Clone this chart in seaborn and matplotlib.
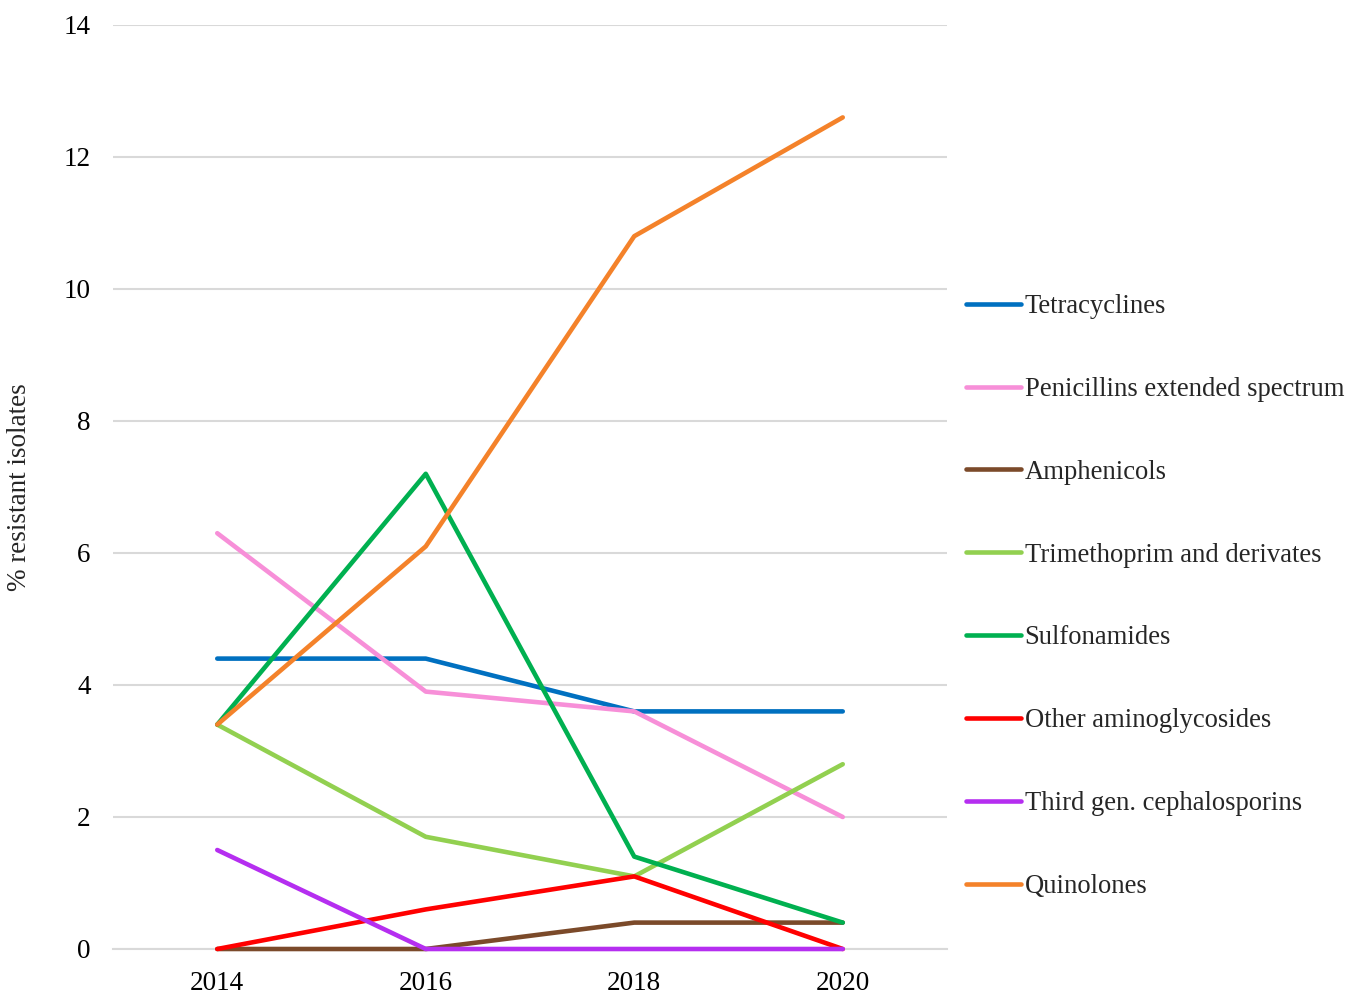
import pandas as pd
import matplotlib.pyplot as plt
import seaborn as sns

# data
years = [2014, 2016, 2018, 2020]
tetracyclines = [4.4, 4.4, 3.6, 3.6]
penicillins = [6.3, 3.9, 3.6, 2.0]
amphenicols = [0.0, 0.0, 0.4, 0.4]
trimethoprim = [3.4, 1.7, 1.1, 2.8]
sulfonamides = [3.4, 7.2, 1.4, 0.4]
aminoglycosides = [0.0, 0.6, 1.1, 0.0]
cephalosporins = [1.5, 0.0, 0.0, 0.0]
quinolones = [3.4, 6.1, 10.8, 12.6]

series = {
    "Tetracyclines": tetracyclines,
    "Penicillins extended spectrum": penicillins,
    "Amphenicols": amphenicols,
    "Trimethoprim and derivates": trimethoprim,
    "Sulfonamides": sulfonamides,
    "Other aminoglycosides": aminoglycosides,
    "Third gen. cephalosporins": cephalosporins,
    "Quinolones": quinolones,
}
colors = ["#0070C0", "#F78FD8", "#7B4A2A", "#92D050",
          "#00B050", "#FF0000", "#B52EF0", "#F4822A"]

rows = []
for name, vals in series.items():
    for y, v in zip(years, vals):
        rows.append({"Year": y, "Value": v, "Class": name})
df = pd.DataFrame(rows)
palette = dict(zip(series.keys(), colors))

sns.set_style("white")
plt.rcParams["font.family"] = ["Liberation Serif", "DejaVu Serif"]

fig = plt.figure(figsize=(13.61, 9.94), dpi=100)
ax = fig.add_axes([113 / 1361, 1 - 949 / 994, (947 - 113) / 1361, (949 - 25) / 994])

sns.lineplot(data=df, x="Year", y="Value", hue="Class", hue_order=list(series.keys()),
             palette=palette, linewidth=3.3, ax=ax, legend=True)
for line in ax.lines:
    line.set_solid_capstyle("round")
    line.set_clip_on(False)
    line.set_zorder(3)

ax.set_xlim(2013, 2021)
ax.set_ylim(0, 14)
ax.set_xticks(years)
ax.set_yticks(range(0, 15, 2))
ax.grid(axis="y", color="#D9D9D9", linewidth=1.5)
ax.set_axisbelow(True)
for s in ["top", "right", "left"]:
    ax.spines[s].set_visible(False)
ax.spines["bottom"].set_color("#D9D9D9")
ax.spines["bottom"].set_linewidth(1.5)
ax.spines["bottom"].set_zorder(1)
ax.tick_params(axis="both", length=0, labelsize=19.5, colors="black")
ax.tick_params(axis="y", pad=16)
ax.tick_params(axis="x", pad=16)
ax.set_xlabel("")
ax.set_ylabel("")
fig.text(20 / 1361, 1 - 487 / 994, "% resistant isolates", rotation=90,
         ha="center", va="center", fontsize=19.5)

handles, labels = ax.get_legend_handles_labels()
for h in handles:
    h.set_linewidth(3.3)
ax.legend(handles, labels, loc="upper left", bbox_to_anchor=(966 / 1361, 1 - 294 / 994),
          bbox_transform=fig.transFigure, frameon=False, fontsize=19.2,
          handlelength=2.05, handletextpad=0.15, labelspacing=2.17,
          borderpad=0, borderaxespad=0)

fig.savefig("out.png", dpi=100)
